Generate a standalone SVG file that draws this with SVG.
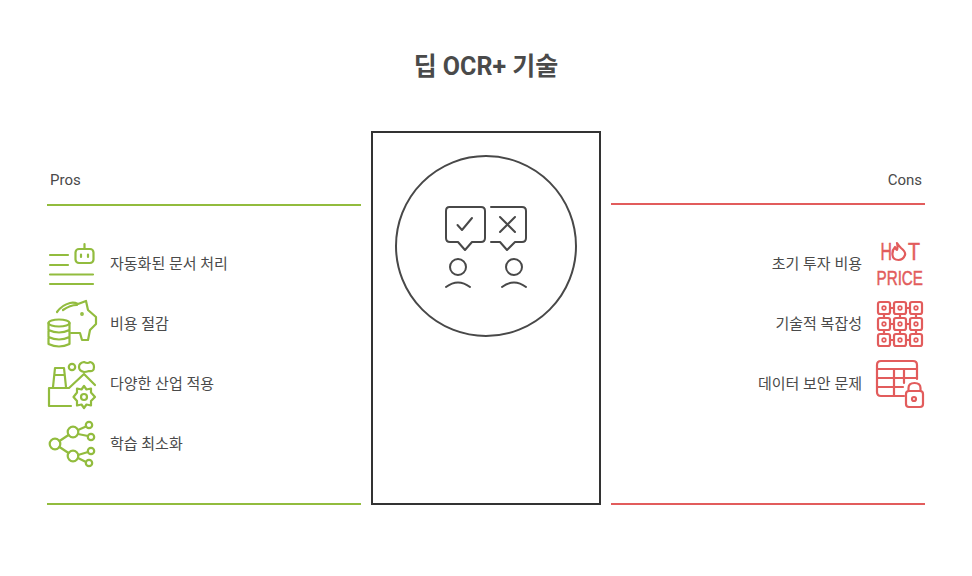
<svg xmlns="http://www.w3.org/2000/svg" width="972" height="576" viewBox="0 0 972 576">
<style>
text{font-family:Roboto,"Noto Sans CJK KR",sans-serif;fill:#4a4a4a}
.l{font-size:15px}
.e{text-anchor:end}
.g,.r,.d{fill:none;stroke-width:2.200;stroke-linecap:round;stroke-linejoin:round}
.g{stroke:#92bc3e}
.r{stroke:#e25c5c}
.d{stroke:#484848;stroke-width:2}
.rt{fill:#e25c5c;stroke:#e25c5c;stroke-width:.5;font-family:"Liberation Sans",sans-serif}
</style>
<rect width="972" height="576" fill="#fff"/>
<text x="486" y="75" text-anchor="middle" font-size="25" font-weight="700">딥 OCR+ 기술</text>
<g id="center">
<rect x="372" y="132" width="228" height="372" fill="#fff" stroke="#333" stroke-width="2"/>
<circle cx="486" cy="246" r="90" fill="#fff" stroke="#484848" stroke-width="2"/>
<path class="d" d="M449.500 207H481Q485 207 485 211V238Q485 242 481 242H472L465 250L458 242H450Q446 242 446 238V211Q446 207 449.500 207Z"/>
<path class="d" d="M457.500 225L462 230L472 218"/>
<path class="d" d="M491 207H522Q526 207 526 211V238Q526 242 522 242H515L507 250L500 242H491"/>
<path class="d" d="M500 217L515 232M515 217L500 232"/>
<circle class="d" cx="458" cy="267" r="8"/>
<circle class="d" cx="514" cy="267" r="8"/>
<path class="d" d="M446 287Q458 278 470 287M502 287Q514 278 526 287"/>
</g>
<g id="connectors">
<path d="M47 205H361M47 504H361" stroke="#92bc3e" stroke-width="2" fill="none"/>
<path d="M611 204H925M611 504H925" stroke="#e25c5c" stroke-width="2" fill="none"/>
</g>
<g id="pros">
<text x="50" y="185" class="l">Pros</text>
<text x="110" y="268.500" class="l">자동화된 문서 처리</text>
<text x="110" y="328.500" class="l">비용 절감</text>
<text x="110" y="388.500" class="l">다양한 산업 적용</text>
<text x="110" y="448.500" class="l">학습 최소화</text>
</g>
<g id="pro-automation" class="g">
<path d="M50 255H68M50 265H68M50 274.500H93M50 284H93M84.500 244V249"/>
<rect x="75.500" y="249" width="18" height="14" rx="3.500"/>
<path d="M81 254.500V257M88 254.500V257"/>
</g>
<g id="pro-saving" class="g">
<path d="M57 312Q62 305 70 303Q74 302 78 304L86 301L88 310L96 317V324L90 330L88 340H82L80 333H71"/>
<path d="M63 310Q70 305 77 305"/>
<circle cx="82" cy="314" r=".8"/>
<ellipse cx="59" cy="323" rx="10.500" ry="3.500"/>
<path d="M48.500 323V344Q59 349 69.500 344V323M48.500 330Q59 335 69.500 330M48.500 337Q59 342 69.500 337"/>
</g>
<g id="pro-industry" class="g">
<path d="M53 387L55 368H64L66 387M54.500 375H64.500"/>
<path d="M71 406H49V388H69L84 374L95 385"/>
<circle cx="72" cy="367" r="3.200"/>
<path d="M84 362Q88 364 90 362Q94 363 94 367Q94 372 89 371Q86 372 84 372Q79 371 79 367Q79 363 84 362Z"/>
<path d="M84 386L86.500 389.500L91 388.500L91 392.500L95 397L91 401L91 405.500L86.500 404.500L84 408L81.500 404.500L77 405.500L77 401L73.500 397L77 392.500L77 388.500L81.500 389.500Z"/>
<circle cx="84" cy="397" r="3"/>
</g>
<g id="pro-learning" class="g">
<circle cx="55" cy="444" r="5.300"/>
<circle cx="73" cy="432" r="5.300"/>
<circle cx="73" cy="456" r="5.300"/>
<circle cx="89" cy="425" r="3.200"/>
<circle cx="91" cy="437" r="3.200"/>
<circle cx="91" cy="451" r="3.200"/>
<circle cx="89" cy="463" r="3.200"/>
<path d="M59.500 441L68.500 435M59.500 447L68.500 453M78 430L86 426.500M78 434L88 436M78 455L88 452M78 458L86 462"/>
</g>
<g id="cons">
<text x="922" y="185" class="l e">Cons</text>
<text x="862" y="268.500" class="l e">초기 투자 비용</text>
<text x="862" y="328.500" class="l e">기술적 복잡성</text>
<text x="862" y="388.500" class="l e">데이터 보안 문제</text>
</g>
<g id="con-price">
<text x="880.500" y="260" class="rt" font-size="23" textLength="11.500" lengthAdjust="spacingAndGlyphs">H</text>
<text x="908" y="260" class="rt" font-size="23" textLength="12" lengthAdjust="spacingAndGlyphs">T</text>
<text x="876.500" y="285" class="rt" font-size="21" textLength="46.500" lengthAdjust="spacingAndGlyphs">PRICE</text>
<path class="r" d="M897 243Q899 246 901 248Q906 252 905 255Q903 260 898.500 260Q893 260 892.500 255Q892 250 895 247Q896 250 897 250Q898 247 897 243Z"/>
</g>
<g id="con-complexity" class="r">
<rect x="878" y="302" width="12" height="12" rx="2"/><rect x="894" y="302" width="12" height="12" rx="2"/><rect x="910" y="302" width="12" height="12" rx="2"/>
<rect x="878" y="318" width="12" height="12" rx="2"/><rect x="894" y="318" width="12" height="12" rx="2"/><rect x="910" y="318" width="12" height="12" rx="2"/>
<rect x="878" y="334" width="12" height="12" rx="2"/><rect x="894" y="334" width="12" height="12" rx="2"/><rect x="910" y="334" width="12" height="12" rx="2"/>
<path d="M890 308H894M906 308H910M890 324H894M906 324H910M890 340H894M906 340H910M884 314V318M900 314V318M916 314V318M884 330V334M900 330V334M916 330V334"/>
<g stroke-width="1.700">
<circle cx="884" cy="308" r="1.800"/><circle cx="900" cy="308" r="1.800"/><circle cx="916" cy="308" r="1.800"/>
<circle cx="884" cy="324" r="1.800"/><circle cx="900" cy="324" r="1.800"/><circle cx="916" cy="324" r="1.800"/>
<circle cx="884" cy="340" r="1.800"/><circle cx="900" cy="340" r="1.800"/><circle cx="916" cy="340" r="1.800"/>
</g>
</g>
<g id="con-security" class="r">
<path d="M904 396H881Q877 396 877 392V365Q877 361 881 361H913Q917 361 917 365V379"/>
<path d="M877 369H917M877 378H917M877 387H903M894 369V396M904 369V383"/>
<rect x="906" y="391" width="17" height="16" rx="3"/>
<path d="M908.500 391V388Q908.500 383 914.500 383Q920.500 383 920.500 388V391"/>
<circle cx="914" cy="399" r="2"/>
</g>
</svg>
